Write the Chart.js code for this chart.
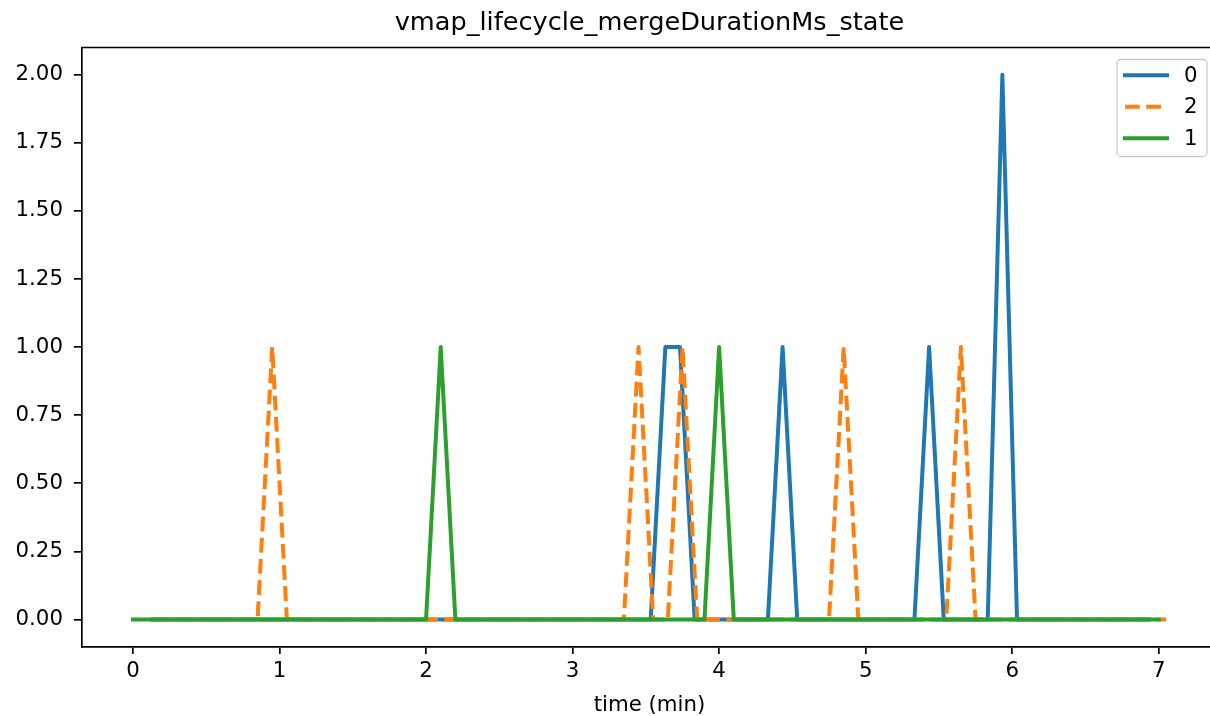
<!DOCTYPE html>
<html>
<head>
<meta charset="utf-8">
<script src="https://cdn.jsdelivr.net/npm/chart.js@4/dist/chart.umd.min.js"></script>
<style>
  html, body { margin: 0; padding: 0; background: #fff; overflow: hidden; }
  #wrap { width: 1210px; height: 716px; }
</style>
</head>
<body>
<div id="wrap"><canvas id="c" width="1210" height="716"></canvas></div>
<script>
// ---- data (time in minutes, value) ----
const title = 'vmap_lifecycle_mergeDurationMs_state';
const xLabel = 'time (min)';
const seriesNames = ['0', '2', '1'];

const s0Time  = [0.133, 3.533, 3.633, 3.733, 3.833, 4.333, 4.433, 4.533, 5.333, 5.433, 5.533, 5.833, 5.933, 6.033, 6.933];
const s0Value = [0,     0,     1,     1,     0,     0,     1,     0,     0,     1,     0,     0,     2,     0,     0];

const s2Time  = [0.15, 0.85, 0.95, 1.05, 3.35, 3.45, 3.55, 3.65, 3.75, 3.85, 4.75, 4.85, 4.95, 5.55, 5.65, 5.75, 7.05];
const s2Value = [0,    0,    1,    0,    0,    1,    0,    0,    1,    0,    0,    1,    0,    0,    1,    0,    0];

const s1Time  = [0, 2.0, 2.1, 2.2, 3.9, 4.0, 4.1, 7.0];
const s1Value = [0, 0,   1,   0,   0,   1,   0,   0];

const xTicks = [0, 1, 2, 3, 4, 5, 6, 7];
const yTicks = [0, 0.25, 0.5, 0.75, 1.0, 1.25, 1.5, 1.75, 2.0];

const colors = ['#1f77b4', '#ff7f0e', '#2ca02c'];

function pts(t, v) { return t.map((x, i) => ({ x: x, y: v[i] })); }

const FONT = '"DejaVu Sans", sans-serif';
const LW = 4;

const decor = {
  id: 'decor',
  afterDraw(chart) {
    const ctx = chart.ctx;
    const a = chart.chartArea;
    ctx.save();
    // keep the far right edge clean (plot continues past the picture)
    ctx.fillStyle = '#fff';
    ctx.fillRect(1185, a.top + 1, 40, a.bottom - a.top - 2);
    // top spine
    ctx.strokeStyle = '#000';
    ctx.lineWidth = 1.7;
    ctx.beginPath();
    ctx.moveTo(a.left, a.top);
    ctx.lineTo(1215, a.top);
    ctx.stroke();
    // title
    ctx.fillStyle = '#000';
    ctx.font = '25.6px ' + FONT;
    ctx.textAlign = 'center';
    ctx.textBaseline = 'middle';
    ctx.fillText(title, 649.5, 23);
    // x label
    ctx.font = '21.3px ' + FONT;
    ctx.fillText(xLabel, 649.5, 705);
    // legend
    const bx = 1117, by = 59.5, bw = 90, bh = 97, r = 4;
    ctx.globalAlpha = 0.8;
    ctx.fillStyle = '#fff';
    ctx.beginPath();
    ctx.roundRect(bx, by, bw, bh, r);
    ctx.fill();
    ctx.globalAlpha = 1;
    ctx.strokeStyle = '#cccccc';
    ctx.lineWidth = 1.3;
    ctx.stroke();
    const rows = [75.3, 106.8, 138.3];
    chart.data.datasets.forEach((ds, i) => {
      const y = rows[i];
      ctx.strokeStyle = ds.borderColor;
      ctx.lineWidth = LW;
      ctx.setLineDash(ds.borderDash || []);
      ctx.lineCap = ds.borderCapStyle;
      ctx.beginPath();
      ctx.moveTo(1125, y);
      ctx.lineTo(1167, y);
      ctx.stroke();
      ctx.setLineDash([]);
      ctx.fillStyle = '#000';
      ctx.textAlign = 'left';
      ctx.textBaseline = 'middle';
      ctx.font = '21.3px ' + FONT;
      ctx.fillText(ds.label, 1184, y + 1);
    });
    ctx.restore();
  }
};

new Chart(document.getElementById('c'), {
  type: 'line',
  data: {
    datasets: [
      { label: seriesNames[0], data: pts(s0Time, s0Value), borderColor: colors[0], borderWidth: LW,
        borderCapStyle: 'square', borderJoinStyle: 'round', order: 3 },
      { label: seriesNames[1], data: pts(s2Time, s2Value), borderColor: colors[1], borderWidth: LW,
        borderDash: [14.8, 6.4], borderCapStyle: 'butt', borderJoinStyle: 'round', order: 2 },
      { label: seriesNames[2], data: pts(s1Time, s1Value), borderColor: colors[2], borderWidth: LW,
        borderCapStyle: 'square', borderJoinStyle: 'round', order: 1 }
    ]
  },
  options: {
    responsive: false,
    animation: false,
    devicePixelRatio: 1,
    layout: { padding: { left: 0, top: 47.5, right: 0, bottom: 0 } },
    elements: { point: { radius: 0, hoverRadius: 0 }, line: { tension: 0, fill: false } },
    plugins: { legend: { display: false }, tooltip: { enabled: false }, title: { display: false } },
    scales: {
      x: {
        type: 'linear',
        min: -0.3525, max: 7.35,
        afterBuildTicks: s => { s.ticks = xTicks.map(v => ({ value: v })); },
        afterFit: s => { s.height = 716 - 646.7; },
        border: { display: true, color: '#000', width: 1.7 },
        grid: { display: true, drawOnChartArea: false, drawTicks: true, tickLength: 7.4,
                color: '#000', lineWidth: 1.7 },
        ticks: { color: '#000', font: { family: FONT, size: 21.3 }, padding: 5, maxRotation: 0,
                 autoSkip: false, callback: v => String(v) }
      },
      y: {
        type: 'linear',
        min: -0.1, max: 2.1,
        afterBuildTicks: s => { s.ticks = yTicks.map(v => ({ value: v })); },
        afterFit: s => { s.width = 81.35; },
        border: { display: true, color: '#000', width: 1.7 },
        grid: { display: true, drawOnChartArea: false, drawTicks: true, tickLength: 7.4,
                color: '#000', lineWidth: 1.7 },
        ticks: { color: '#000', font: { family: FONT, size: 21.3 }, padding: 11,
                 autoSkip: false, callback: v => Number(v).toFixed(2) }
      }
    }
  },
  plugins: [decor]
});
</script>
</body>
</html>
